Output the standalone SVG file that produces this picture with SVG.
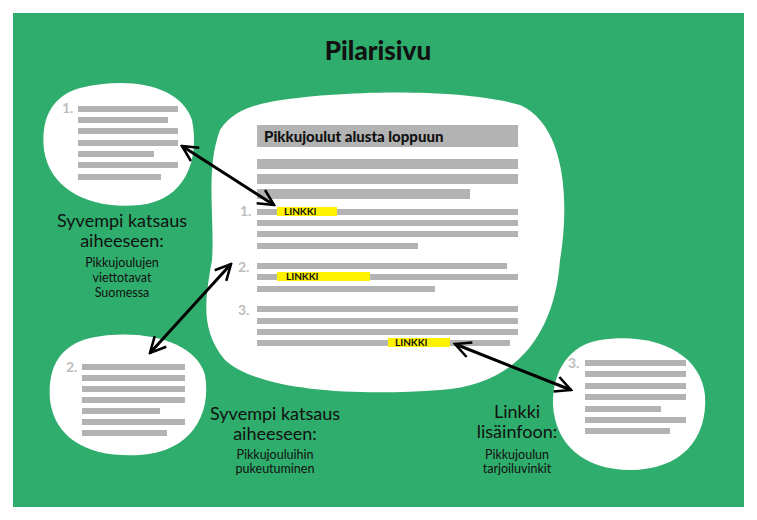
<svg xmlns="http://www.w3.org/2000/svg" width="757" height="520" viewBox="0 0 757 520">
<style>
.bar{fill:#b3b3b3}
.num{fill:#bdbdbd;font:bold 14px Lato,sans-serif}
.big{fill:#111;font:18px Lato,sans-serif;text-anchor:middle}
.sm{fill:#111;font:12.5px Lato,sans-serif;text-anchor:middle}
.lk{fill:#111;font:bold 10px Lato,sans-serif}
.hl{fill:#fff200}
.blob{fill:#fff}
</style>
<defs>
<marker id="ah" viewBox="0 0 10 10" refX="9" refY="5" markerWidth="6.5" markerHeight="6.5" orient="auto-start-reverse" markerUnits="strokeWidth"><path d="M1,1 L9,5 L1,9" fill="none" stroke="#000" stroke-width="1.3"/></marker>
</defs>
<rect width="757" height="520" fill="#fff"/>
<rect x="13" y="13" width="731" height="494" fill="#2fad6c"/>
<text x="378" y="60" text-anchor="middle" style="font:900 26px Lato,sans-serif;fill:#111">Pilarisivu</text>
<g id="main">
<path class="blob" d="M270,102 C340,90 460,88 520,105 C565,125 570,200 560,260 C555,330 520,385 440,390 C360,396 260,392 225,360 C200,330 205,300 212,260 C215,220 205,170 220,130 C232,112 250,106 270,102 Z"/>
<rect class="bar" x="257" y="125" width="261" height="22"/>
<text x="264" y="142" style="font:900 15px Lato,sans-serif;fill:#111">Pikkujoulut alusta loppuun</text>
<rect class="bar" x="257" y="159" width="261" height="10"/>
<rect class="bar" x="257" y="174" width="261" height="10"/>
<rect class="bar" x="257" y="189" width="213" height="10"/>
<text class="num" x="240" y="216">1.</text>
<rect class="bar" x="257" y="209" width="261" height="6"/>
<rect class="hl" x="277" y="207" width="60" height="9"/>
<text class="lk" x="284" y="215">LINKKI</text>
<rect class="bar" x="257" y="220" width="261" height="6"/>
<rect class="bar" x="257" y="231" width="261" height="6"/>
<rect class="bar" x="257" y="243" width="161" height="6"/>
<text class="num" x="238" y="272">2.</text>
<rect class="bar" x="257" y="263" width="250" height="6"/>
<rect class="bar" x="257" y="274" width="261" height="6"/>
<rect class="hl" x="277" y="272" width="93" height="9"/>
<text class="lk" x="286" y="280">LINKKI</text>
<rect class="bar" x="257" y="286" width="178" height="6"/>
<text class="num" x="238" y="315">3.</text>
<rect class="bar" x="257" y="306" width="261" height="6"/>
<rect class="bar" x="257" y="318" width="261" height="6"/>
<rect class="bar" x="257" y="329" width="261" height="6"/>
<rect class="bar" x="257" y="340" width="253" height="6"/>
<rect class="hl" x="388" y="338" width="62" height="9"/>
<text class="lk" x="395" y="346">LINKKI</text>
</g>
<g id="sub1">
<path class="blob" d="M80,88 C130,76 180,85 192,120 C200,160 185,200 140,205 C90,210 50,190 44,150 C40,115 55,95 80,88 Z"/>
<text class="num" x="62" y="113">1.</text>
<rect class="bar" x="78" y="106" width="100" height="6"/>
<rect class="bar" x="78" y="117" width="90" height="6"/>
<rect class="bar" x="78" y="128" width="100" height="6"/>
<rect class="bar" x="78" y="140" width="100" height="6"/>
<rect class="bar" x="78" y="151" width="76" height="6"/>
<rect class="bar" x="78" y="162" width="100" height="6"/>
<rect class="bar" x="78" y="174" width="83" height="6"/>
<text class="big" x="122" y="227">Syvempi katsaus</text>
<text class="big" x="122" y="247">aiheeseen:</text>
<text class="sm" x="122" y="267">Pikkujoulujen</text>
<text class="sm" x="122" y="282">viettotavat</text>
<text class="sm" x="122" y="297">Suomessa</text>
</g>
<g id="sub2">
<path class="blob" d="M90,338 C140,328 195,340 205,375 C212,415 190,452 140,455 C90,458 55,440 50,400 C47,365 62,345 90,338 Z"/>
<text class="num" x="66" y="372">2.</text>
<rect class="bar" x="82" y="364" width="103" height="6"/>
<rect class="bar" x="82" y="375" width="103" height="6"/>
<rect class="bar" x="82" y="386" width="103" height="6"/>
<rect class="bar" x="82" y="397" width="103" height="6"/>
<rect class="bar" x="82" y="408" width="78" height="6"/>
<rect class="bar" x="82" y="419" width="103" height="6"/>
<rect class="bar" x="82" y="430" width="85" height="6"/>
<text class="big" x="275" y="420">Syvempi katsaus</text>
<text class="big" x="275" y="440">aiheeseen:</text>
<text class="sm" x="275" y="459">Pikkujouluihin</text>
<text class="sm" x="275" y="473">pukeutuminen</text>
</g>
<g id="sub3">
<path class="blob" d="M600,340 C650,332 700,350 705,395 C708,440 680,470 630,470 C585,470 555,445 553,405 C552,370 570,345 600,340 Z"/>
<text class="num" x="568" y="368">3.</text>
<rect class="bar" x="585" y="360" width="101" height="6"/>
<rect class="bar" x="585" y="371" width="101" height="6"/>
<rect class="bar" x="585" y="383" width="101" height="6"/>
<rect class="bar" x="585" y="394" width="101" height="6"/>
<rect class="bar" x="585" y="406" width="76" height="6"/>
<rect class="bar" x="585" y="417" width="101" height="6"/>
<rect class="bar" x="585" y="428" width="85" height="6"/>
<text class="big" x="517" y="418">Linkki</text>
<text class="big" x="517" y="438">lisäinfoon:</text>
<text class="sm" x="517" y="459">Pikkujoulun</text>
<text class="sm" x="517" y="473">tarjoiluvinkit</text>
</g>
<g id="connectors" stroke="#000" stroke-width="3" fill="none">
<line x1="182" y1="146" x2="274" y2="205" marker-start="url(#ah)" marker-end="url(#ah)"/>
<line x1="150" y1="353" x2="231" y2="264" marker-start="url(#ah)" marker-end="url(#ah)"/>
<line x1="455" y1="344" x2="571" y2="390" marker-start="url(#ah)" marker-end="url(#ah)"/>
</g>
</svg>
